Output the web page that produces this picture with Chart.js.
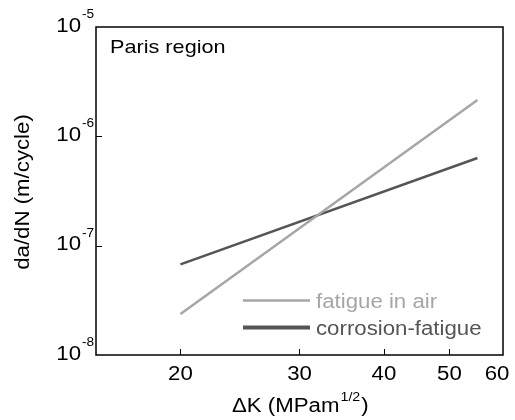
<!DOCTYPE html>
<html>
<head>
<meta charset="utf-8">
<script src="https://cdn.jsdelivr.net/npm/chart.js@4.4.1/dist/chart.umd.min.js"></script>
<style>
  body { margin: 0; background: #fff; }
  #wrap { width: 515px; height: 420px; }
</style>
</head>
<body>
<div id="wrap"><canvas id="paris-chart" width="515" height="420"></canvas></div>
<script>
// stress intensity range (MPa m^1/2) at the ends of each line
var deltaK = [20, 55];
var airRate = [2.37e-8, 2.15e-6];        // fatigue in air
var corrosionRate = [6.74e-8, 6.33e-7];  // corrosion-fatigue
var xTicks = [20, 30, 40, 50, 60];
var yTickExps = [-8, -7, -6, -5];

var LIGHT = "#a6a6a6";
var DARK = "#555555";
var SX = 1.14; // the original lettering is a bit wider than Arial

function pts(xs, ys) {
  return xs.map(function (x, i) { return { x: x, y: ys[i] }; });
}

function txt(ctx, s, x, y, size, color, align) {
  ctx.save();
  ctx.font = size + 'px "Liberation Sans", Arial, sans-serif';
  ctx.fillStyle = color;
  ctx.textBaseline = "alphabetic";
  ctx.textAlign = "left";
  var w = ctx.measureText(s).width * SX;
  var x0 = align === "center" ? x - w / 2 : align === "right" ? x - w : x;
  ctx.translate(x0, y);
  ctx.scale(SX, 1);
  ctx.fillText(s, 0, 0);
  ctx.restore();
  return w;
}

var decor = {
  id: "decor",
  afterDraw: function (chart) {
    var ctx = chart.ctx, a = chart.chartArea;
    var xs = chart.scales.x, ys = chart.scales.y;

    // frame
    ctx.save();
    ctx.strokeStyle = "#000";
    ctx.lineWidth = 1.5;
    ctx.strokeRect(a.left, a.top, a.right - a.left, a.bottom - a.top);

    // inward tick marks
    ctx.lineWidth = 1;
    ctx.beginPath();
    xTicks.forEach(function (v) {
      var px = Math.round(xs.getPixelForValue(v)) + 0.5;
      if (px < a.right - 2) { ctx.moveTo(px, a.bottom); ctx.lineTo(px, a.bottom - 6); }
    });
    yTickExps.forEach(function (e) {
      var py = Math.round(ys.getPixelForValue(Math.pow(10, e))) + 0.5;
      if (py > a.top + 2 && py < a.bottom - 2) { ctx.moveTo(a.left, py); ctx.lineTo(a.left + 6, py); }
    });
    ctx.stroke();
    ctx.restore();

    // x tick labels
    xTicks.forEach(function (v) {
      var px = Math.min(xs.getPixelForValue(v), 497);
      txt(ctx, String(v), px, 380, 19.5, "#000", "center");
    });

    // y tick labels 10^e
    yTickExps.forEach(function (e) {
      var py = ys.getPixelForValue(Math.pow(10, e));
      txt(ctx, "10", 81, py + 4.5, 19.5, "#000", "right");
      txt(ctx, String(e), 82, py - 9, 12, "#000", "left");
    });

    // axis titles
    var w = txt(ctx, "\u0394K (MPam", 232, 412, 19.5, "#000", "left");
    var w2 = txt(ctx, "1/2", 232 + w + 1, 401, 12.5, "#000", "left");
    txt(ctx, ")", 232 + w + w2 + 2, 412, 19.5, "#000", "left");

    ctx.save();
    ctx.translate(29, (a.top + a.bottom) / 2 + 1);
    ctx.rotate(-Math.PI / 2);
    txt(ctx, "da/dN (m/cycle)", 0, 0, 19.5, "#000", "center");
    ctx.restore();

    // annotation
    txt(ctx, "Paris region", 110, 53, 19, "#000", "left");

    // legend
    ctx.save();
    ctx.strokeStyle = LIGHT;
    ctx.lineWidth = 2.3;
    ctx.beginPath(); ctx.moveTo(243, 300.5); ctx.lineTo(310, 300.5); ctx.stroke();
    ctx.strokeStyle = DARK;
    ctx.lineWidth = 4;
    ctx.beginPath(); ctx.moveTo(243, 327.5); ctx.lineTo(310, 327.5); ctx.stroke();
    ctx.restore();
    txt(ctx, "fatigue in air", 316, 308, 19.5, LIGHT, "left");
    txt(ctx, "corrosion-fatigue", 316, 335, 19.5, DARK, "left");
  }
};

new Chart(document.getElementById("paris-chart"), {
  type: "line",
  data: {
    datasets: [
      {
        label: "fatigue in air",
        data: pts(deltaK, airRate),
        borderColor: LIGHT,
        borderWidth: 2.5,
        pointRadius: 0,
        fill: false
      },
      {
        label: "corrosion-fatigue",
        data: pts(deltaK, corrosionRate),
        borderColor: DARK,
        borderWidth: 2.5,
        pointRadius: 0,
        fill: false
      }
    ]
  },
  options: {
    responsive: false,
    animation: false,
    layout: { padding: { left: 96, right: 12, top: 27, bottom: 65 } },
    plugins: { legend: { display: false }, tooltip: { enabled: false } },
    scales: {
      x: { type: "logarithmic", min: 15, max: 60, display: false },
      y: { type: "logarithmic", min: 1e-8, max: 1e-5, display: false }
    }
  },
  plugins: [decor]
});
</script>
</body>
</html>
